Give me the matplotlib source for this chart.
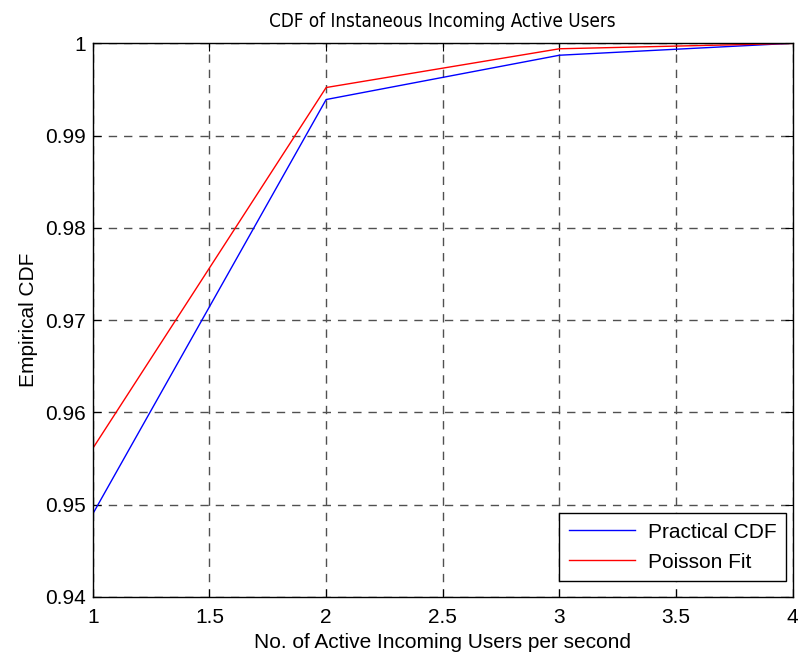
import matplotlib.pyplot as plt
import numpy as np

# Number of active incoming users per second
users = [1, 2, 3, 4]
# Empirical CDF measured from traffic
practical_cdf = [0.9490, 0.9939, 0.9987, 1.0000]
# CDF of the fitted Poisson model
poisson_cdf = [0.9561, 0.9952, 0.9994, 0.99998]

plt.rcParams['font.family'] = ['Liberation Sans', 'DejaVu Sans']

fig = plt.figure(figsize=(8, 6.6), dpi=100)
ax = fig.add_axes([0.116, 0.0955, 0.875, 0.839])

ax.plot(users, practical_cdf, color='blue', lw=1, label='Practical CDF')
ax.plot(users, poisson_cdf, color='red', lw=1, label='Poisson Fit')

ax.set_xlim(1, 4)
ax.set_ylim(0.94, 1)
ax.set_xticks(np.arange(1, 4.01, 0.5))
ax.set_xticklabels(['1', '1.5', '2', '2.5', '3', '3.5', '4'])
ax.set_yticks(np.arange(0.94, 1.001, 0.01))
ax.set_yticklabels(['0.94', '0.95', '0.96', '0.97', '0.98', '0.99', '1'])

ax.grid(True, color='#505050', linestyle=(0, (6, 5)), linewidth=1)
ax.tick_params(direction='in', top=True, right=True, labelsize=15, length=6, pad=5)
ax.tick_params(axis='x', pad=8)
for s in ax.spines.values():
    s.set_linewidth(1)

ax.set_title('CDF of Instaneous Incoming Active Users', fontsize=13.5,
             family='DejaVu Sans', fontstretch='condensed', pad=12)
ax.set_xlabel('No. of Active Incoming Users per second', fontsize=15, labelpad=4)
ax.set_ylabel('Empirical CDF', fontsize=15, labelpad=5)

leg = ax.legend(loc='lower right', bbox_to_anchor=(0.99, 0.029), fontsize=15,
                fancybox=False, framealpha=1, edgecolor='black',
                handlelength=3.2, handletextpad=0.6, borderaxespad=0,
                borderpad=0.45, labelspacing=0.52)
leg.get_frame().set_linewidth(1)

fig.savefig('out.png')
